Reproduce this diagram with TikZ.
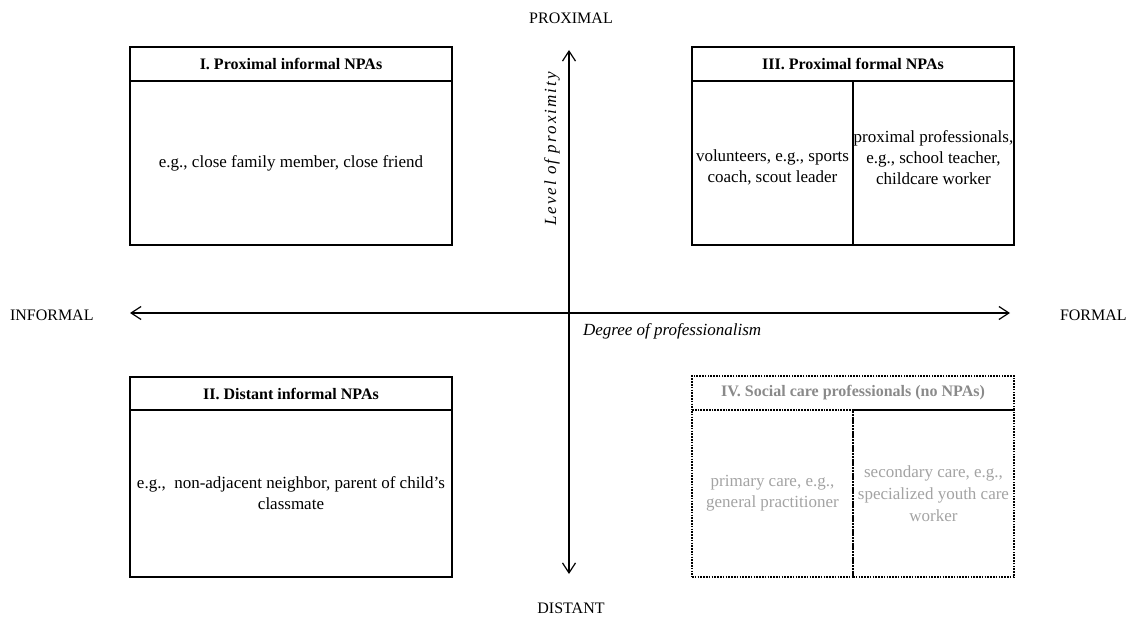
\documentclass[tikz,border=0pt]{standalone}
\usepackage{fontspec}
\setmainfont{Liberation Serif}
\usetikzlibrary{arrows.meta}
\definecolor{gtext}{HTML}{A3A3A3}
\definecolor{ghead}{HTML}{8A8A8A}
\begin{document}
\begin{tikzpicture}[x=1pt,y=-1pt,
  every node/.style={inner sep=0pt, outer sep=0pt},
  txt/.style={font=\fontsize{17}{21}\selectfont, align=center},
  lbl/.style={font=\fontsize{16}{19}\selectfont},
  boxline/.style={draw=black, line width=1.8pt},
  dashline/.style={draw=black, line width=1.3pt, dash pattern=on 1.6pt off 1.2pt},
  head/.style={minimum width=322pt, minimum height=34pt, font=\fontsize{16}{19}\selectfont\bfseries, anchor=north west},
  wide/.style={minimum width=322pt, txt, anchor=north},
  cell/.style={minimum width=161pt, txt, anchor=north west},
  axis/.style={line width=1.2pt, <->, >={Straight Barb[length=10pt,width=13pt]}}
]
\useasboundingbox (0,0) rectangle (1132,620);

% axes
\coordinate (L) at (130,313);
\coordinate (R) at (1010,313);
\coordinate (T) at (569,50);
\coordinate (B) at (569,574);
\draw[axis] (L) -- (R);
\draw[axis] (B) -- (T);

% axis labels
\node[lbl, anchor=base] (prox) at (571,24) {PROXIMAL};
\node[lbl, anchor=base] (dist) at (571,613) {DISTANT};
\node[lbl, anchor=base west] (inf) at (10,320) {INFORMAL};
\node[lbl, anchor=base west] (form) at (1060,320) {FORMAL};
\node[font=\fontsize{17}{21}\selectfont\itshape, anchor=base west] (deg) at (583,335) {Degree of professionalism};
\node[font=\fontsize{17}{21}\selectfont\itshape\addfontfeature{LetterSpace=12}, anchor=base, rotate=90] (lev) at (556,149) {Level of proximity};

% Box I
\node[head, boxline] (h1) at (130,47) {I. Proximal informal NPAs};
\node[wide, boxline, minimum height=164pt] (b1) at (h1.south) {e.g., close family member, close friend};

% Box III
\node[head, boxline] (h3) at (692,47) {III. Proximal formal NPAs};
\node[cell, boxline, minimum height=164pt] (b3a) at (h3.south west) {};
\node[cell, boxline, minimum height=164pt] (b3b) at (b3a.north east) {};
\node[txt] (t3a) at ([yshift=-4pt]b3a.center) {volunteers, e.g., sports\\coach, scout leader};
\node[txt] (t3b) at ([yshift=5pt]b3b.center) {proximal professionals,\\e.g., school teacher,\\childcare worker};

% Box II
\node[head, boxline, minimum height=33pt] (h2) at (130,377) {II. Distant informal NPAs};
\node[wide, boxline, minimum height=167pt] (b2) at (h2.south) {e.g.,~ non-adjacent neighbor, parent of child's\\classmate};

% Box IV
\node[head, dashline, minimum height=34pt, text=ghead] (h4) at (692,376) {IV. Social care professionals (no NPAs)};
\node[cell, dashline, minimum height=167pt, text=gtext] (b4a) at (h4.south west) {primary care, e.g.,\\general practitioner};
\node[cell, dashline, minimum height=167pt, text=gtext, font=\fontsize{17}{22}\selectfont] (b4b) at (b4a.north east) {secondary care, e.g.,\\specialized youth care\\worker};
\end{tikzpicture}
\end{document}
